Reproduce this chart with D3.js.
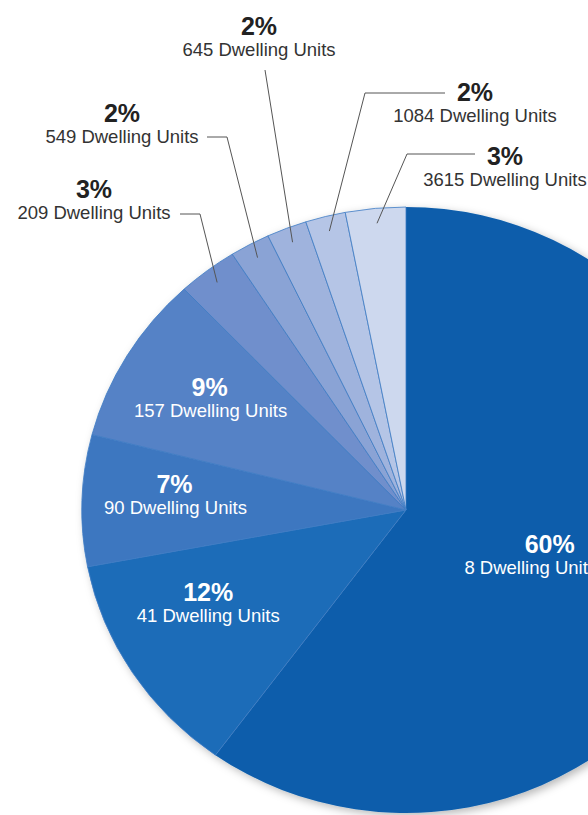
<!DOCTYPE html>
<html>
<head>
<meta charset="utf-8">
<script src="https://cdn.jsdelivr.net/npm/d3@7"></script>
<style>
  html, body { margin: 0; padding: 0; background: #fff; }
  svg { display: block; font-family: "Liberation Sans", Arial, Helvetica, sans-serif; }
</style>
</head>
<body>
<svg width="588" height="815"></svg>
<script>
// slices, clockwise from 12 o'clock
var pcts = [60, 12, 7, 9, 3, 2, 2, 2, 3];
var units = [8, 41, 90, 157, 209, 549, 645, 1084, 3615];
var colors = ["#0a5dab", "#1f6cb8", "#3e77c0", "#5582c6", "#6f8fcc", "#8aa3d5", "#9fb3dd", "#b5c5e6", "#cdd8ee"];

var svg = d3.select("svg"),
    cx = 406, cy = 510,
    radius = 303,
    sx = 1.07; // pie is a bit wider than tall in the original

var data = pcts.map(function(p, i) { return { pct: p, units: units[i], color: colors[i] }; });

var pie = d3.pie().sort(null).value(function(d) { return d.pct; });
var arcs = pie(data);
var arc = d3.arc().innerRadius(0).outerRadius(radius);

// soft shadow around the pie
var defs = svg.append("defs");
defs.append("filter").attr("id", "shadow")
    .attr("x", "-10%").attr("y", "-10%").attr("width", "130%").attr("height", "130%")
  .append("feDropShadow")
    .attr("dx", 3).attr("dy", 3).attr("stdDeviation", 4)
    .attr("flood-color", "#000").attr("flood-opacity", 0.28);

var g = svg.append("g")
    .attr("transform", "translate(" + cx + "," + cy + ") scale(" + sx + ",1)");

g.append("g").attr("filter", "url(#shadow)")
  .selectAll("path")
  .data(arcs)
  .enter().append("path")
    .attr("d", arc)
    .attr("fill", function(d) { return d.data.color; })
    .attr("stroke", function(d, i) { return i === 0 ? "none" : "#3f7cc4"; })
    .attr("stroke-width", 0.8)
    .attr("vector-effect", "non-scaling-stroke");

// helpers: polar (pie frame) -> screen
function toScreen(angle, r) {
  return [cx + sx * r * Math.sin(angle), cy - r * Math.cos(angle)];
}
function mid(d) { return (d.startAngle + d.endAngle) / 2; }

// labels inside the big slices: angle offset (deg), radius, sub-label shift
var innerLayout = [
  { i: 0, da: -0.3, r: 141, subDx: -19 },
  { i: 1, da: 6.2, r: 206, subDx: 0 },
  { i: 2, da: 2.6, r: 217, subDx: 1 },
  { i: 3, da: 1.2, r: 216, subDx: 1 }
];

innerLayout.forEach(function(l) {
  var d = arcs[l.i],
      p = toScreen(mid(d) + l.da * Math.PI / 180, l.r);
  svg.append("text")
      .attr("x", p[0]).attr("y", p[1])
      .attr("text-anchor", "middle")
      .attr("fill", "#fff")
      .attr("font-weight", "bold")
      .attr("font-size", 25)
      .text(d.data.pct + "%");
  svg.append("text")
      .attr("x", p[0] + l.subDx).attr("y", p[1] + 21)
      .attr("text-anchor", "middle")
      .attr("fill", "#fff")
      .attr("font-size", 18.5)
      .text(d.data.units + " Dwelling Units");
});

// labels outside the thin slices, with leader lines
var outerLayout = [
  { i: 4, x: 94, y: 198, lead: [[180, 214], [200, 214]] },
  { i: 5, x: 122, y: 122, lead: [[207, 137], [227, 137]] },
  { i: 6, x: 259, y: 35, lead: [[265, 70]] },
  { i: 7, x: 475, y: 101, lead: [[445, 93], [365, 93]] },
  { i: 8, x: 505, y: 165, lead: [[475, 154], [407, 154]] }
];

var line = d3.line();

outerLayout.forEach(function(l) {
  var d = arcs[l.i],
      end = toScreen(mid(d), 288);
  svg.append("path")
      .attr("d", line(l.lead.concat([end])))
      .attr("fill", "none")
      .attr("stroke", "#555")
      .attr("stroke-width", 1);
  svg.append("text")
      .attr("x", l.x).attr("y", l.y)
      .attr("text-anchor", "middle")
      .attr("fill", "#222")
      .attr("font-weight", "bold")
      .attr("font-size", 25)
      .text(d.data.pct + "%");
  svg.append("text")
      .attr("x", l.x).attr("y", l.y + 21)
      .attr("text-anchor", "middle")
      .attr("fill", "#333")
      .attr("font-size", 18.5)
      .text(d.data.units + " Dwelling Units");
});
</script>
</body>
</html>
